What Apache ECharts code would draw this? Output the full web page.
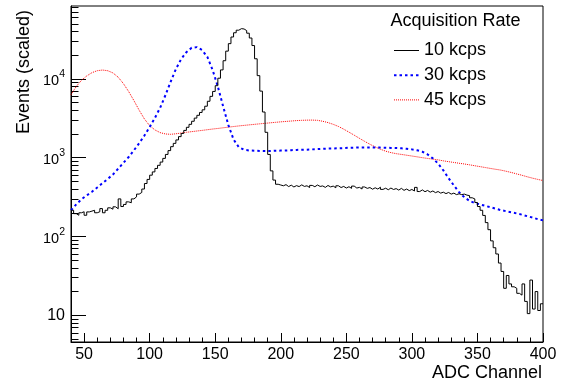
<!DOCTYPE html>
<html><head><meta charset="utf-8">
<script src="https://cdn.jsdelivr.net/npm/echarts@6/dist/echarts.min.js"></script>
<style>html,body{margin:0;padding:0;background:#fff}#c{width:561px;height:381px}</style>
</head><body><div id="c"></div><script>
// ---- data ----
const seriesNames = ['10 kcps', '30 kcps', '45 kcps'];
const legendTitle = 'Acquisition Rate';
const xTitle = 'ADC Channel';
const yTitle = 'Events (scaled)';

// black histogram: bins of 2 channels starting at channel 40
const blackBinStart = 40, blackBinWidth = 2;
const blackValues = [
  215,195,186,200,206,186,205,210,215,200,
  206,226,200,215,231,222,238,225,300,240,
  255,275,268,300,318,345,362,400,470,530,
  600,660,730,800,880,980,1100,1230,1380,1520,
  1680,1850,2030,2220,2430,2650,2900,3180,3450,3750,
  4050,4500,5200,6000,6930,8200,10200,13000,17000,22500,
  28000,34000,38500,41500,43400,43000,41000,38000,33000,26500,
  18000,11000,7000,3800,2100,1100,680,520,460,450,
  440,455,430,448,425,442,430,452,432,440,
  418,445,428,450,432,438,420,444,426,436,
  415,440,418,432,412,428,408,436,412,420,
  400,425,408,418,398,415,400,422,396,410,
  392,412,395,405,388,408,385,400,382,395,
  378,420,372,390,370,384,365,378,360,372,
  355,365,350,362,345,355,340,348,340,345,
  335,330,310,300,270,240,215,185,150,122,
  88,72,60,46,36,22,32,25,23,22,
  19,18,25,15,10.5,28,12,20,11.5,14
];

// smooth curves sampled every 4 channels from 40 to 400
const smoothStart = 40, smoothStep = 4;
const blueValues = [
  215,255,297,332,370,418,475,537,612,725,
  860,1020,1240,1530,1910,2450,3200,4300,6200,9200,
  13300,17800,21800,24800,25300,23200,19000,13000,8000,4500,
  2600,1700,1360,1260,1235,1225,1220,1215,1215,1225,
  1230,1235,1245,1255,1260,1265,1275,1285,1295,1305,
  1310,1315,1325,1335,1340,1345,1350,1350,1348,1342,
  1338,1332,1325,1315,1300,1275,1240,1190,1100,980,
  840,690,550,445,365,315,283,266,255,245,
  235,225,216,209,203,196,189,181,174,166,
  160
];
const redValues = [
  6300,8000,9600,10900,12000,12700,12950,12700,11900,10500,
  8700,6900,5300,4000,3100,2550,2250,2080,2000,1980,
  2010,2055,2100,2140,2180,2220,2265,2310,2350,2395,
  2440,2485,2530,2570,2610,2650,2690,2730,2770,2810,
  2850,2885,2920,2955,2980,2995,3000,2980,2900,2790,
  2650,2490,2300,2110,1930,1760,1610,1480,1370,1280,
  1210,1160,1125,1100,1075,1050,1025,1000,978,958,
  938,912,890,870,850,832,812,790,770,750,
  730,712,695,672,648,622,598,572,550,530,
  513
];

const xTickLabels = [50, 100, 150, 200, 250, 300, 350, 400];
const xMinorTicks = [50,60,70,80,90,100,110,120,130,140,150,160,170,180,190,200,210,220,230,240,250,260,270,280,290,300,310,320,330,340,350,360,370,380,390,400];
const yTickExponents = [1, 2, 3, 4];

// ---- build ----
const FONT = '"Liberation Sans", Arial, Helvetica, sans-serif';
const blackData = blackValues.map((v, i) => [blackBinStart + i * blackBinWidth, Math.log10(v)]);
blackData.push([blackBinStart + blackValues.length * blackBinWidth, Math.log10(blackValues[blackValues.length - 1])]);
const blueData = blueValues.map((v, i) => [smoothStart + i * smoothStep, Math.log10(v)]);
const redData = redValues.map((v, i) => [smoothStart + i * smoothStep, Math.log10(v)]);

const yMinor = [];
for (let n = 0; n <= 4; n++) for (let k = 2; k <= 9; k++) {
  const l = Math.log10(k * Math.pow(10, n));
  if (l > 0.661 && l < 4.925) yMinor.push(l);
}

const styles = [
  {color: '#000000', width: 1, type: 'solid'},
  {color: '#0000ff', width: 2, type: [2.5, 3]},
  {color: '#ff0000', width: 1, type: [1, 1]}
];

const chart = echarts.init(document.getElementById('c'), null, {renderer: 'canvas'});
chart.setOption({
  animation: false,
  backgroundColor: '#fff',
  grid: {left: 71, right: 18, top: 6, bottom: 39, show: true, borderColor: '#000', borderWidth: 1, backgroundColor: 'transparent'},
  xAxis: [{
    type: 'value', min: 40, max: 400,
    axisLine: {show: true, lineStyle: {color: '#000', width: 1}},
    axisTick: {show: true, inside: true, length: 9, customValues: xTickLabels, lineStyle: {color: '#000'}},
    axisLabel: {customValues: xTickLabels, color: '#000', fontSize: 16, fontFamily: FONT, margin: 5},
    splitLine: {show: false}
  }, {
    type: 'value', min: 40, max: 400, position: 'bottom',
    axisLine: {show: false},
    axisTick: {show: true, inside: true, length: 4.5, customValues: xMinorTicks, lineStyle: {color: '#000'}},
    axisLabel: {show: false},
    splitLine: {show: false}
  }],
  yAxis: [{
    type: 'value', min: 0.661, max: 4.925,
    axisLine: {show: true, lineStyle: {color: '#000', width: 1}},
    axisTick: {show: true, inside: true, length: 15, customValues: yTickExponents, lineStyle: {color: '#000'}},
    axisLabel: {
      customValues: yTickExponents, margin: 6, color: '#000',
      formatter: v => v === 1 ? '{p|10}' : '{b|10}{s|' + v + '}',
      rich: {
        p: {fontSize: 16, fontFamily: FONT, color: '#000', lineHeight: 20},
        b: {fontSize: 14.5, fontFamily: FONT, color: '#000', lineHeight: 20, verticalAlign: 'bottom'},
        s: {fontSize: 10.5, fontFamily: FONT, color: '#000', lineHeight: 20, verticalAlign: 'top'}
      }
    },
    splitLine: {show: false}
  }, {
    type: 'value', min: 0.661, max: 4.925, position: 'left',
    axisLine: {show: false},
    axisTick: {show: true, inside: true, length: 7.5, customValues: yMinor, lineStyle: {color: '#000'}},
    axisLabel: {show: false},
    splitLine: {show: false}
  }],
  legend: {
    left: 393, top: 41.5, orient: 'vertical', padding: 0,
    itemWidth: 25, itemHeight: 12, itemGap: 6.7,
    data: seriesNames.map((n, i) => ({name: n, lineStyle: {width: styles[i].width, type: styles[i].type, color: styles[i].color}})),
    itemStyle: {opacity: 0},
    textStyle: {fontSize: 18, fontFamily: FONT, color: '#000', lineHeight: 18},
    selectedMode: false
  },
  graphic: [
    {type: 'text', x: 390.5, y: 21.5, style: {text: legendTitle, font: '18px ' + FONT, fill: '#000', align: 'left', verticalAlign: 'middle'}},
    {type: 'text', x: 542, y: 373, style: {text: xTitle, font: '18px ' + FONT, fill: '#000', align: 'right', verticalAlign: 'middle'}},
    {type: 'text', x: 24, y: 10, rotation: Math.PI / 2, style: {text: yTitle, font: '18px ' + FONT, fill: '#000', align: 'right', verticalAlign: 'middle'}}
  ],
  series: [{
    name: seriesNames[0], type: 'line', step: 'end', data: blackData, symbol: 'none',
    color: styles[0].color, lineStyle: styles[0], z: 4
  }, {
    name: seriesNames[1], type: 'line', data: blueData, symbol: 'none',
    color: styles[1].color, lineStyle: styles[1], z: 3
  }, {
    name: seriesNames[2], type: 'line', data: redData, symbol: 'none',
    color: styles[2].color, lineStyle: styles[2], z: 2
  }]
});
</script></body></html>
